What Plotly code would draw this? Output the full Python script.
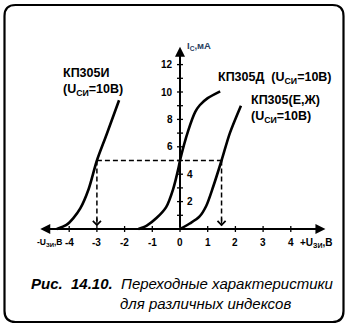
import plotly.graph_objects as go

# ---- data ----
v_i = [-4.45, -4.1, -3.85, -3.6, -3.3, -3.0, -2.65, -2.2]
i_i = [0.0, 0.3, 0.8, 1.5, 2.9, 5.0, 6.9, 9.4]

v_d = [-1.5, -1.2, -0.85, -0.5, -0.25, -0.05, 0.0, 0.3, 0.55, 0.72, 1.0, 1.45]
i_d = [0.0, 0.25, 0.8, 1.6, 2.9, 4.5, 5.0, 7.2, 8.55, 9.05, 9.55, 10.05]

v_e = [0.0, 0.35, 0.7, 0.95, 1.2, 1.5, 1.8, 2.2]
i_e = [0.0, 0.4, 0.9, 1.7, 3.1, 5.0, 7.0, 9.0]

guide_v = [-3.0, 1.5]
guide_i = 5.0

x_ticks = [-4, -3, -2, -1, 0, 1, 2, 3, 4]
x_labels = ["-4", "-3", "-2", "-1", "0", "1", "2", "3", "4"]
y_ticks = list(range(1, 13))
y_label_vals = [2, 4, 6, 8, 10, 12]
y_labels = ["2", "4", "6", "8", "10", "12"]

x_axis_span = [-5.1, 5.25]
y_axis_top = 13.3

FONT = "Liberation Sans, Arial, sans-serif"
W, H = 350, 328
PXV, PXI = 27.7, 13.7
X0, Y0 = 180, 229

fig = go.Figure()
for vx, iy in [(v_i, i_i), (v_d, i_d), (v_e, i_e)]:
    fig.add_trace(go.Scatter(x=vx, y=iy, mode="lines",
                             line=dict(color="black", width=2.6, shape="spline", smoothing=0.8),
                             hoverinfo="skip", showlegend=False))

shapes = []
# dashed guides
shapes.append(dict(type="line", x0=guide_v[0], x1=guide_v[1], y0=guide_i, y1=guide_i,
                   line=dict(color="black", width=1.5, dash="5px,3px")))
for gv in guide_v:
    shapes.append(dict(type="line", x0=gv, x1=gv, y0=guide_i, y1=0.25,
                       line=dict(color="black", width=1.5, dash="5px,3px")))
# x ticks
for t in x_ticks:
    shapes.append(dict(type="line", xref="x", yref="y", x0=t, x1=t,
                       ysizemode="pixel", yanchor=0, y0=-3, y1=3,
                       line=dict(color="black", width=1.3)))
# y ticks
for t in y_ticks:
    shapes.append(dict(type="line", xref="x", yref="y", y0=t, y1=t,
                       xsizemode="pixel", xanchor=0, x0=-3, x1=3,
                       line=dict(color="black", width=1.3)))
# rounded frame (paper coords)
l, r, t_, b = 4.5 / W, 343.5 / W, 1 - 5 / H, 1 - 322 / H
rx, ry = 11 / W, 11 / H
path = (f"M {l+rx},{t_} L {r-rx},{t_} Q {r},{t_} {r},{t_-ry} L {r},{b+ry} "
        f"Q {r},{b} {r-rx},{b} L {l+rx},{b} Q {l},{b} {l},{b+ry} L {l},{t_-ry} Q {l},{t_} {l+rx},{t_} Z")
shapes.append(dict(type="path", xref="paper", yref="paper", path=path,
                   line=dict(color="black", width=2.2)))

ann = []
# axes with arrows
ann.append(dict(x=x_axis_span[1], y=0, ax=x_axis_span[0], ay=0, xref="x", yref="y",
                axref="x", ayref="y", showarrow=True, arrowhead=2, startarrowhead=2,
                arrowside="end+start", arrowwidth=2, arrowsize=1, startarrowsize=1,
                arrowcolor="black", text=""))
ann.append(dict(x=0, y=y_axis_top, ax=0, ay=0, xref="x", yref="y",
                axref="x", ayref="y", showarrow=True, arrowhead=2,
                arrowwidth=2, arrowsize=1, arrowcolor="black", text=""))
# guide arrowheads
for gv in guide_v:
    ann.append(dict(x=gv, y=0.2, ax=gv, ay=0.9, xref="x", yref="y", axref="x", ayref="y",
                    showarrow=True, arrowhead=4, arrowwidth=1.3, arrowsize=1.2,
                    arrowcolor="black", text=""))

tf = dict(family=FONT, size=10, color="black")
for t, lab in zip(x_ticks, x_labels):
    ann.append(dict(x=t, y=0, xref="x", yref="y", text=f"<b>{lab}</b>", showarrow=False,
                    yanchor="top", yshift=-6, font=tf))
for t, lab in zip(y_label_vals, y_labels):
    side_left = t >= 6
    ann.append(dict(x=0, y=t, xref="x", yref="y", text=f"<b>{lab}</b>", showarrow=False,
                    xanchor="right" if side_left else "left",
                    xshift=-5 if side_left else 5, font=tf))
af = dict(family=FONT, size=8.5, color="black")
ann.append(dict(x=x_axis_span[0], y=0, xref="x", yref="y", text="<b>-U<sub>ЗИ</sub>,В</b>",
                showarrow=False, xanchor="left", yanchor="top", xshift=-4, yshift=-6, font=af))
ann.append(dict(x=x_axis_span[1], y=0, xref="x", yref="y", text="<b>+U<sub>ЗИ</sub>,В</b>",
                showarrow=False, xanchor="right", yanchor="top", xshift=9, yshift=-6, font=tf))
ann.append(dict(x=0, y=y_axis_top, xref="x", yref="y", text="<b>I<sub>C</sub>,мА</b>",
                showarrow=False, xanchor="left", yanchor="middle", xshift=5, yshift=1,
                font=dict(family=FONT, size=9.5)))

lf = dict(family=FONT, size=12.5, color="black")
ann.append(dict(x=-4.3, y=10.75, xref="x", yref="y", showarrow=False, xanchor="left", align="left",
                text="<b>КП305И<br>(U<sub>СИ</sub>=10В)</b>", font=lf))
ann.append(dict(x=1.3, y=11.0, xref="x", yref="y", showarrow=False, xanchor="left",
                text="<b>КП305Д  (U<sub>СИ</sub>=10В)</b>", font=lf))
ann.append(dict(x=2.5, y=8.75, xref="x", yref="y", showarrow=False, xanchor="left", align="left",
                text="<b>КП305(Е,Ж)<br>(U<sub>СИ</sub>=10В)</b>", font=lf))

cf = dict(family=FONT, size=15, color="black")
ann.append(dict(x=29 / W, y=1 - 283 / H, xref="paper", yref="paper", showarrow=False,
                xanchor="left", yanchor="middle",
                text="<b><i>Рис.&nbsp; 14.10.</i></b>&nbsp; <i>Переходные характеристики</i>", font=cf))
ann.append(dict(x=118 / W, y=1 - 303 / H, xref="paper", yref="paper", showarrow=False,
                xanchor="left", yanchor="middle",
                text="<i>для различных индексов</i>", font=cf))

fig.update_layout(
    width=W, height=H, margin=dict(l=0, r=0, t=0, b=0),
    paper_bgcolor="white", plot_bgcolor="white",
    xaxis=dict(range=[-X0 / PXV, (W - X0) / PXV], visible=False, fixedrange=True),
    yaxis=dict(range=[(Y0 - H) / PXI, Y0 / PXI], visible=False, fixedrange=True),
    shapes=shapes, annotations=ann,
)
fig.write_html("out.html")
